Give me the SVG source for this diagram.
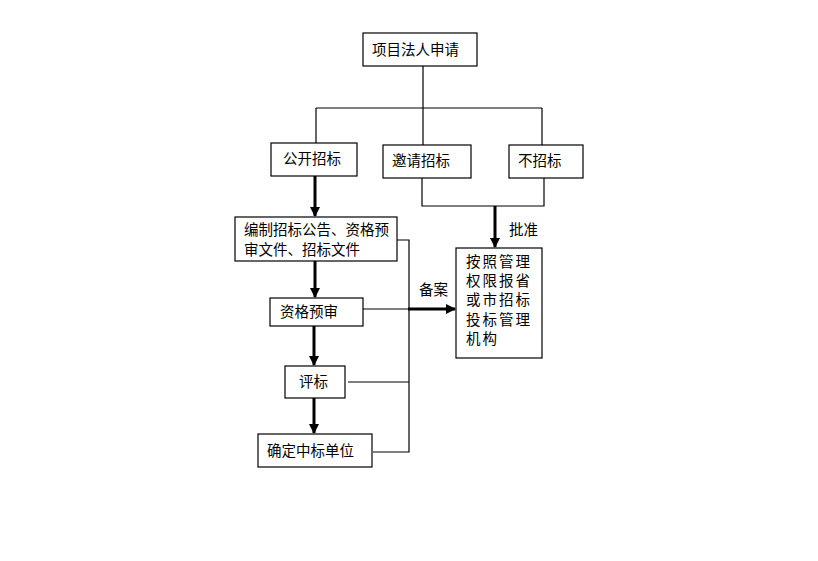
<svg xmlns="http://www.w3.org/2000/svg" width="818" height="561" viewBox="0 0 818 561">
<defs>
<marker id="ah" markerWidth="10" markerHeight="10" refX="9" refY="5" orient="auto" markerUnits="userSpaceOnUse">
<path d="M0,0 L10,5 L0,10 Z" fill="#000"/>
</marker>
<style>
.box{fill:#fff;stroke:#000;stroke-width:1.2}
.t{font-family:"Noto Sans CJK SC","Noto Sans CJK JP",sans-serif;font-size:14.5px;fill:#000}
.ln{fill:none;stroke:#000;stroke-width:1.2}
.th{fill:none;stroke:#000;stroke-width:3}
</style>
</defs>
<rect width="818" height="561" fill="#fff"/>
<g id="connectors">
<path class="ln" d="M423,66 V108 M316,108 H542 M316,108 V143 M423,108 V145 M542,108 V145"/>
<path class="ln" d="M422,178 V206 H544 V178"/>
<path class="th" d="M495,206 V247" marker-end="url(#ah)"/>
<path class="th" d="M315,176 V216" marker-end="url(#ah)"/>
<path class="th" d="M315,261 V297" marker-end="url(#ah)"/>
<path class="th" d="M314,326 V365" marker-end="url(#ah)"/>
<path class="th" d="M314,398 V433" marker-end="url(#ah)"/>
<path class="ln" d="M397,240 H409 V452 H373 M348,382 H409 M363,309 H409"/>
<path class="th" d="M408,309 H455" marker-end="url(#ah)"/>
</g>
<g id="n1"><rect class="box" x="363" y="33" width="114" height="33"/><text class="t" x="372" y="55">项目法人申请</text></g>
<g id="n2"><rect class="box" x="271" y="143" width="86" height="33"/><text class="t" x="283" y="164">公开招标</text></g>
<g id="n3"><rect class="box" x="383" y="145" width="88" height="33"/><text class="t" x="392" y="166">邀请招标</text></g>
<g id="n4"><rect class="box" x="509" y="145" width="74" height="33"/><text class="t" x="518" y="166">不招标</text></g>
<g id="n5"><rect class="box" x="235" y="217" width="162" height="44"/><text class="t" x="244" y="235" font-size="14.2">编制招标公告、资格预</text><text class="t" x="244" y="255" font-size="14.2">审文件、招标文件</text></g>
<g id="n6"><rect class="box" x="270" y="298" width="93" height="28"/><text class="t" x="280" y="317">资格预审</text></g>
<g id="n7"><rect class="box" x="285" y="366" width="60" height="32"/><text class="t" x="299" y="387">评标</text></g>
<g id="n8"><rect class="box" x="258" y="434" width="114" height="33"/><text class="t" x="267" y="456">确定中标单位</text></g>
<g id="n9"><rect class="box" x="456" y="248" width="86" height="110"/>
<text class="t" x="466" y="267" letter-spacing="2">按照管理</text>
<text class="t" x="466" y="286" letter-spacing="2">权限报省</text>
<text class="t" x="466" y="305" letter-spacing="2">或市招标</text>
<text class="t" x="466" y="325" letter-spacing="2">投标管理</text>
<text class="t" x="466" y="344" letter-spacing="2">机构</text></g>
<text class="t" x="509" y="235">批准</text>
<text class="t" x="419" y="295">备案</text>
</svg>
